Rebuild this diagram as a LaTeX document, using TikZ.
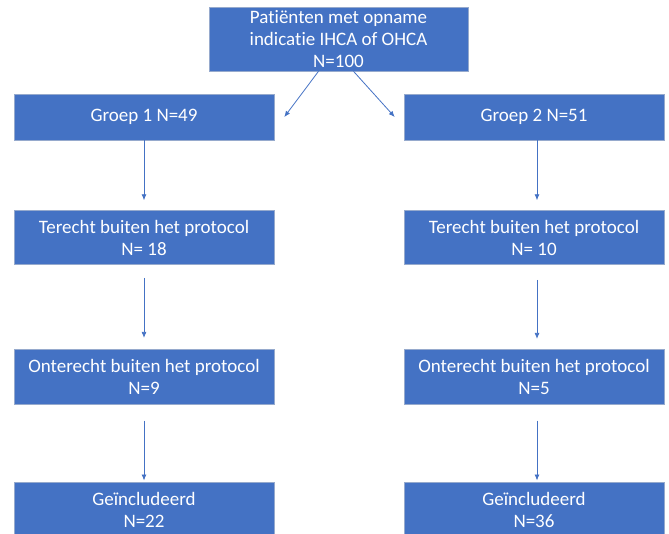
\documentclass[tikz,border=0pt]{standalone}
\usepackage{fontspec}
\setmainfont{Carlito}[Ligatures=NoCommon]
\usepackage{tikz}
\usetikzlibrary{positioning,calc,arrows.meta}
\tikzset{>=Latex}
\definecolor{boxblue}{RGB}{68,114,196}
\definecolor{boxline}{RGB}{150,170,205}
\tikzset{flowbox/.style={draw=boxline,line width=0.6pt,fill=boxblue,text=white,align=center,minimum width=260pt,inner sep=0pt,font=\fontsize{19}{22}\selectfont}}
\tikzset{flowarrow/.style={->,line width=0.8pt,boxblue,>={Latex[length=6pt,width=5pt]}}}

\begin{document}
\begin{tikzpicture}[x=1pt,y=-1pt]
            \clip (0,0) rectangle (669,533);
            \node[flowbox,minimum width=259pt,minimum height=64pt] (pat) at (338.5,39) {Patiënten met opname\\indicatie IHCA of OHCA\\N=100};
            \node[flowbox,minimum height=46pt] (g1) at (144,117) {Groep 1 N=49};
            \node[flowbox,minimum height=46pt] (g2) at (534,117) {Groep 2 N=51};
            % linker kolom
            \node[flowbox,minimum height=54pt,below=70pt of g1] (t1) {Terecht buiten het protocol\\N= 18};
            \node[flowbox,minimum height=55pt,below=84pt of t1] (o1) {Onterecht buiten het protocol\\N=9};
            \node[flowbox,minimum height=56pt,below=77pt of o1] (i1) {Geïncludeerd\\N=22};
            % rechter kolom
            \node[flowbox,minimum height=54pt,below=70pt of g2] (t2) {Terecht buiten het protocol\\N= 10};
            \node[flowbox,minimum height=55pt,below=84pt of t2] (o2) {Onterecht buiten het protocol\\N=5};
            \node[flowbox,minimum height=56pt,below=77pt of o2] (i2) {Geïncludeerd\\N=36};
            \draw [flowarrow] ([xshift=-20pt]pat.south) -- ([xshift=10pt]g1.east);
            \draw [flowarrow] ([xshift=15pt]pat.south) -- ([xshift=-9pt]g2.west);
            \draw [flowarrow] (g1.south) -- ([yshift=10pt]t1.north);
            \draw [flowarrow] ([yshift=-13pt]t1.south) -- ([yshift=11pt]o1.north);
            \draw [flowarrow] ([yshift=-16pt]o1.south) -- ([yshift=1pt]i1.north);
            \draw [flowarrow] ([xshift=3pt]g2.south) -- ([xshift=3pt,yshift=10pt]t2.north);
            \draw [flowarrow] ([xshift=3pt,yshift=-15pt]t2.south) -- ([xshift=3pt,yshift=10pt]o2.north);
            \draw [flowarrow] ([xshift=3pt,yshift=-16pt]o2.south) -- ([xshift=3pt,yshift=1pt]i2.north);
\end{tikzpicture}
\end{document}
